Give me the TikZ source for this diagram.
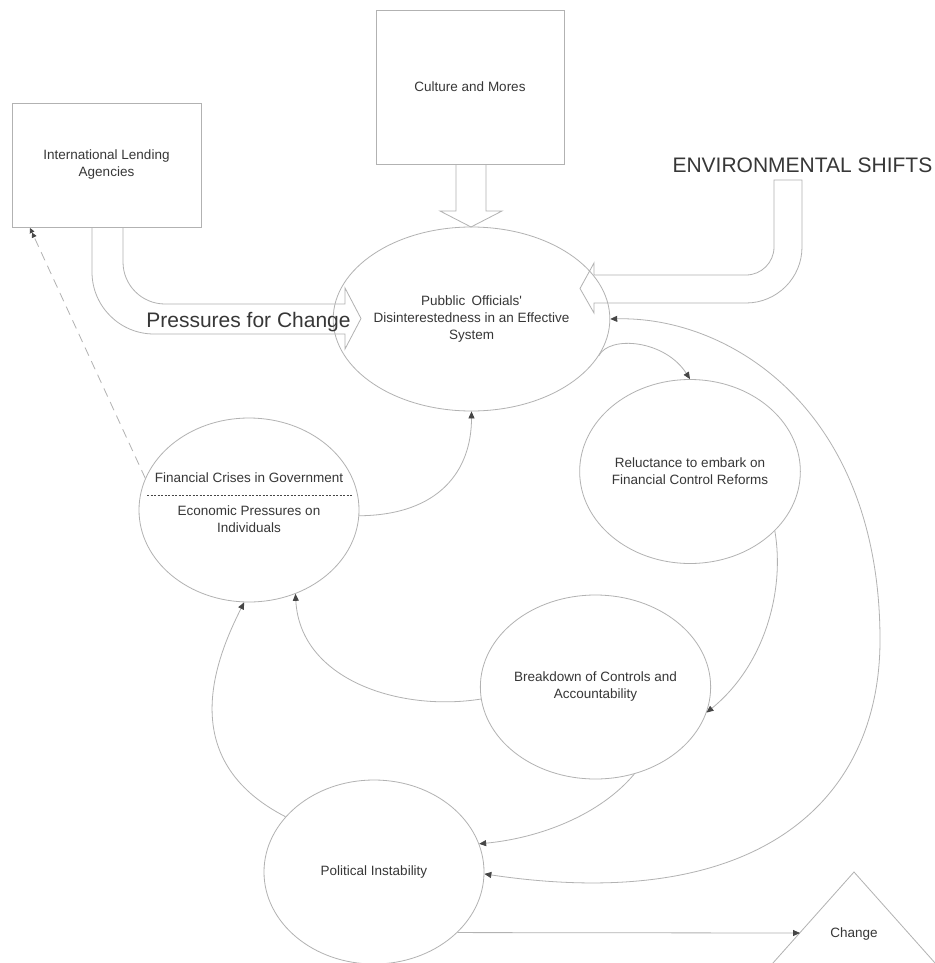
\documentclass[tikz,border=0pt]{standalone}
\usepackage{fontspec}
\setmainfont{Liberation Sans}
\usetikzlibrary{arrows.meta,shapes.geometric}
\definecolor{linec}{RGB}{178,178,178}
\definecolor{tipc}{RGB}{70,70,70}
\definecolor{txtc}{RGB}{55,55,55}
\begin{document}
\begin{tikzpicture}[x=1pt,y=-1pt,
  every node/.style={text=txtc, font=\fontsize{13.5}{17}\selectfont, align=center},
  bub/.style={ellipse, draw=linec, line width=0.8pt, minimum width=220pt, minimum height=184pt, inner sep=0pt},
  box/.style={rectangle, draw=linec, line width=0.8pt, inner sep=0pt},
  link/.style={draw=linec, line width=0.8pt, -{Triangle[length=7pt,width=6pt,color=tipc]}},
  blockarrow/.style={draw=linec, line width=0.8pt, line join=miter},
  bigtext/.style={font=\fontsize{21}{25}\selectfont}
]
\useasboundingbox (0,0) rectangle (934,963);
\fill[white] (0,0) rectangle (934,963);

% nodes
\node[box, minimum width=189pt, minimum height=124pt] (ila) at (106.5,165) {International Lending\\Agencies};
\node[box, minimum width=188pt, minimum height=154pt] (cult) at (470,87) {Culture and Mores};
\node[bigtext, anchor=base east, inner sep=0pt] (env) at (932.5,172) {ENVIRONMENTAL SHIFTS};
\node[bub] (pub) at (471.5,319) {Pubblic\hspace{0.45em}Officials\textquotesingle\\Disinterestedness in an Effective\\System};
\node[bub] (rel) at (690,471.5) {Reluctance to embark on\\Financial Control Reforms};
\node[bub] (fin) at (249,510) {};
\node (fint) at (249,478) {Financial Crises in Government};
\node (fine) at (249,519.5) {Economic Pressures on\\Individuals};
\node[bub] (brk) at (595.5,687) {Breakdown of Controls and\\Accountability};
\node[bub] (pol) at (374,872) {Political Instability};
\node (chg) at (854,934) {Change};
\node[bigtext, anchor=base, inner sep=0pt] (press) at (248.5,327) {Pressures for Change};

\coordinate (ilatip) at (30,228);
\coordinate (chgin) at (800,933);
\coordinate (bigR) at (880,640);

% dashed separator inside the financial bubble
\draw[tipc, line width=0.5pt, dash pattern=on 2pt off 1.5pt] ([xshift=-102pt,yshift=15pt]fin.center) -- ([xshift=104pt,yshift=15pt]fin.center);

% change triangle
\draw[draw=linec, line width=0.8pt] (740,1000) -- (854,872) -- (968,1000);

% block arrows
\draw[blockarrow] (456,164) -- (456,211) -- (440,211) -- (471,227) -- (502,211) -- (486,211) -- (486,164);
\draw[blockarrow] (123,227) [rounded corners=42pt] -- (123,304) [sharp corners] -- (345,304) -- (345,288) -- (361,318.5) -- (345,349) -- (345,334) [rounded corners=62pt] -- (92,334) [sharp corners] -- (92,227);
\draw[blockarrow] (774,180) -- (802,180) [rounded corners=56pt] -- (802,303) [sharp corners] -- (594,303) -- (594,313) -- (580,288.5) -- (594,263) -- (594,275) [rounded corners=28pt] -- (774,275) [sharp corners] -- cycle;

% connectors
\draw[link] (pub.-16) .. controls (610,335) and (665,340) .. (rel.north);
\draw[link] (rel.-35) .. controls (785,590) and (765,665) .. (brk.-13);
\draw[link] (brk.-66) .. controls (600,815) and (540,838) .. (pol.15);
\draw[link] (brk.186) .. controls (400,712) and (300,680) .. (fin.-61);
\draw[link] (pol.148) .. controls (175,760) and (215,660) .. (fin.-93);
\draw[link] (fin.-3) .. controls (440,515) and (471.5,470) .. (pub.south);
\draw[draw=linec, line width=0.8pt, {Triangle[length=7pt,width=6pt,color=tipc]}-{Triangle[length=7pt,width=6pt,color=tipc]}] (pub.east) .. controls (730,316) and (880,410) .. (bigR) .. controls (880,800) and (760,915) .. (pol.-1);
\draw[link] (pol.-36) -- (chgin);
\draw[draw=linec, line width=0.8pt, dash pattern=on 9pt off 6pt, -{Triangle[length=5pt,width=5pt,color=tipc] Triangle[length=5pt,width=5pt,color=tipc]}] (fin.163) -- (ilatip);
\end{tikzpicture}
\end{document}
